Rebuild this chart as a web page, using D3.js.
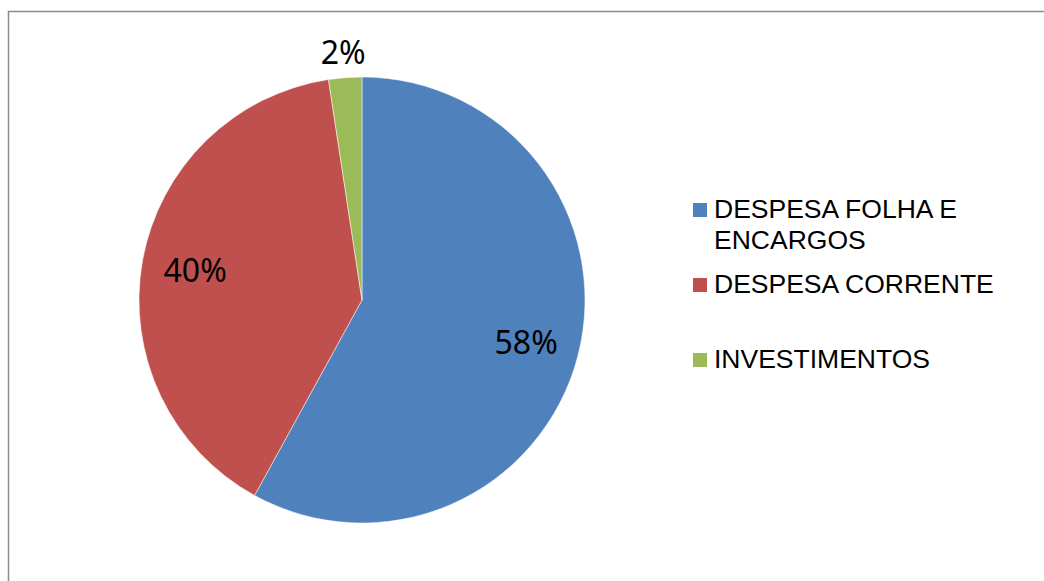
<!DOCTYPE html>
<html>
<head>
<meta charset="utf-8">
<script src="https://cdn.jsdelivr.net/npm/d3@7"></script>
<style>
    body { margin: 0; background: #fff; }
</style>
</head>
<body>
<div id="chart"></div>
<script>
// Chart data
const categories = ["DESPESA FOLHA E ENCARGOS", "DESPESA CORRENTE", "INVESTIMENTOS"];
const legendLines = [["DESPESA FOLHA E", "ENCARGOS"], ["DESPESA CORRENTE"], ["INVESTIMENTOS"]];
const values = [58.0, 39.6, 2.4];
const colors = ["#4F81BD", "#C0504D", "#9BBB59"];

const width = 1044, height = 581;

const svg = d3.select("#chart").append("svg")
    .attr("width", width)
    .attr("height", height);

// Outer frame (right and bottom edges fall outside the picture)
svg.append("rect")
    .attr("x", 8.5)
    .attr("y", 11.5)
    .attr("width", width + 20)
    .attr("height", height + 20)
    .attr("fill", "none")
    .attr("stroke", "#8c8c8c")
    .attr("stroke-width", 1.5);

const cx = 362, cy = 300, radius = 223;

const pie = d3.pie().sort(null).value(d => d.value);
const arcs = pie(categories.map((c, i) => ({ name: c, value: values[i] })));
const total = d3.sum(values);

const arc = d3.arc().innerRadius(0).outerRadius(radius);
const labelArc = d3.arc().innerRadius(radius * 0.76).outerRadius(radius * 0.76);
const outerLabelArc = d3.arc().innerRadius(radius * 1.115).outerRadius(radius * 1.115);

const g = svg.append("g")
    .attr("transform", `translate(${cx},${cy})`);

g.selectAll(".slice")
    .data(arcs)
    .join("path")
    .attr("class", "slice")
    .attr("d", arc)
    .attr("fill", (d, i) => colors[i])
    .attr("stroke", "#ffffff")
    .attr("stroke-width", 0.5);

// Percent labels: small slices get the label outside
g.selectAll(".pct")
    .data(arcs)
    .join("text")
    .attr("class", "pct")
    .attr("transform", d => {
        const small = (d.endAngle - d.startAngle) < 0.2;
        const p = small ? outerLabelArc.centroid(d) : labelArc.centroid(d);
        return `translate(${p[0]},${p[1]})`;
    })
    .attr("dy", "0.36em")
    .attr("text-anchor", "middle")
    .style("font-family", "'Noto Sans', 'Open Sans', sans-serif")
    .style("font-size", "32px")
    .attr("fill", "#000")
    .text(d => Math.round(d.value / total * 100) + "%");

// Legend
const legendY = [203, 278, 353];
const legend = svg.append("g")
    .attr("transform", "translate(693,0)");

const items = legend.selectAll(".item")
    .data(categories)
    .join("g")
    .attr("class", "item")
    .attr("transform", (d, i) => `translate(0,${legendY[i]})`);

items.append("rect")
    .attr("width", 14)
    .attr("height", 14)
    .attr("fill", (d, i) => colors[i]);

items.append("text")
    .attr("x", 21)
    .style("font-family", "'Liberation Sans', Arial, sans-serif")
    .style("font-size", "26.5px")
    .attr("fill", "#000")
    .each(function (d, i) {
        d3.select(this).selectAll("tspan")
            .data(legendLines[i])
            .join("tspan")
            .attr("x", 21)
            .attr("y", (t, j) => 15 + j * 31)
            .text(t => t);
    });
</script>
</body>
</html>
